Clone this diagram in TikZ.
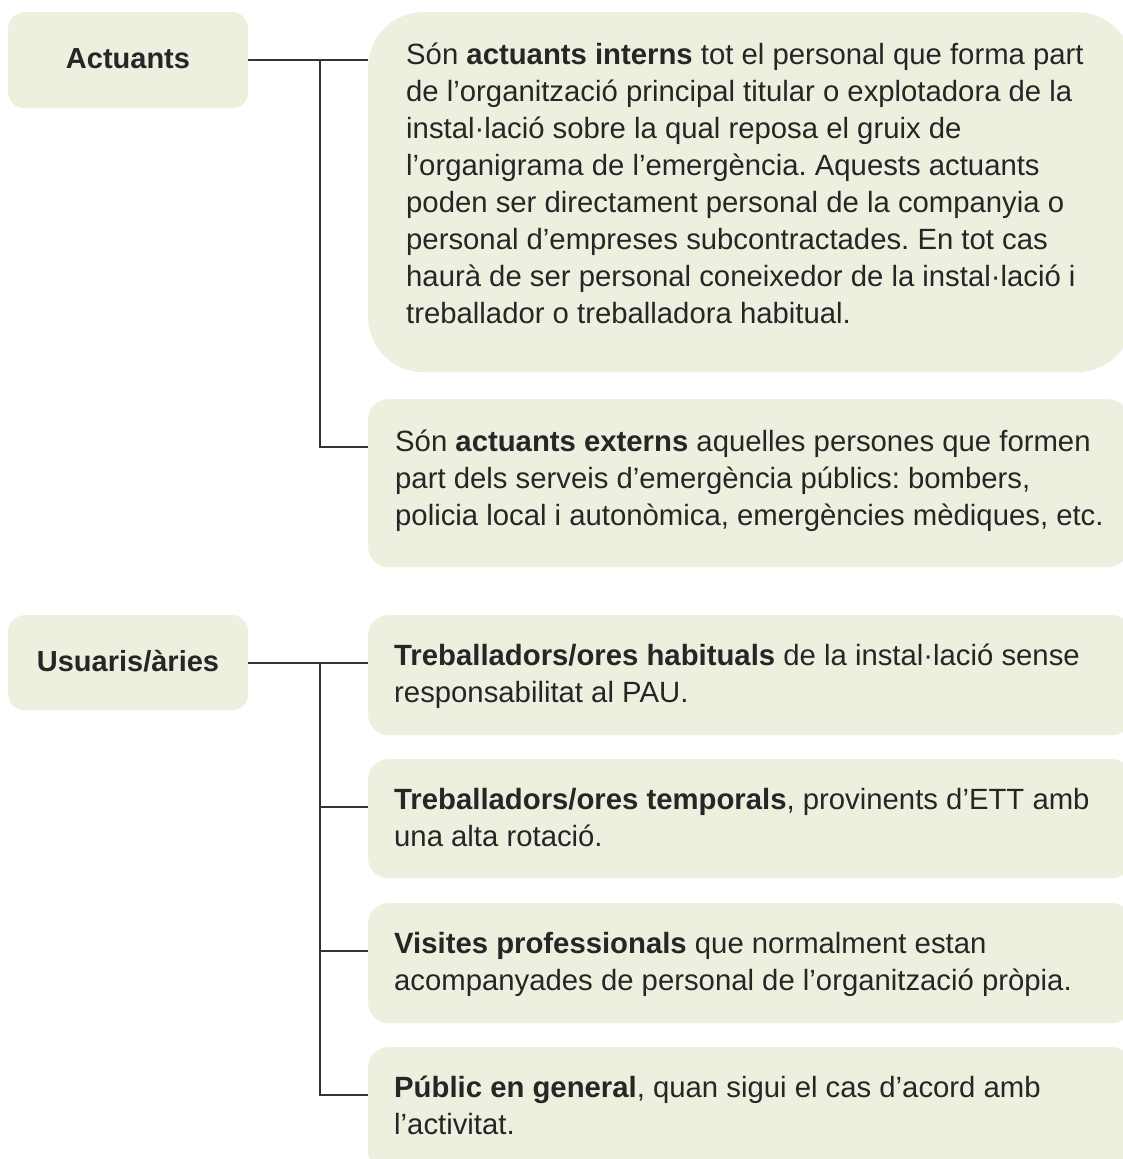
\documentclass[tikz,border=0pt]{standalone}
\usepackage{fontspec}
\setmainfont{Liberation Sans}
\definecolor{boxfill}{HTML}{EBF1DE}
\definecolor{txt}{HTML}{262626}
\definecolor{linecol}{HTML}{333333}
\begin{document}
\frenchspacing
\begin{tikzpicture}[x=1pt,y=-1pt,
  bg/.style={draw=none, fill=boxfill, inner sep=0pt, anchor=north west},
  head/.style={inner sep=0pt, anchor=base, text=txt, font=\fontsize{29pt}{37pt}\selectfont\bfseries},
  body/.style={inner sep=0pt, anchor=base west, text=txt, font=\fontsize{29.3pt}{37pt}\selectfont\frenchspacing, align=left},
  conn/.style={draw=linecol, line width=2pt}]
\useasboundingbox (0,0) rectangle (1123,1159);
% header boxes
\node[bg, rounded corners=16pt, minimum width=240pt, minimum height=96pt] (hA) at (8,12) {};
\node[bg, rounded corners=16pt, minimum width=240pt, minimum height=95pt] (hU) at (8,615) {};
\node[head] (tA) at (128,68) {Actuants};
\node[head] (tU) at (128,671) {Usuaris/àries};
% content boxes
\node[bg, rounded corners=55pt, minimum width=764pt, minimum height=360pt] (b1) at (368,12) {};
\node[bg, rounded corners=20pt, minimum width=760pt, minimum height=168pt] (b2) at (368,399) {};
\node[bg, rounded corners=20pt, minimum width=764pt, minimum height=120pt] (u1) at (368,615) {};
\node[bg, rounded corners=20pt, minimum width=764pt, minimum height=119pt] (u2) at (368,759) {};
\node[bg, rounded corners=20pt, minimum width=764pt, minimum height=120pt] (u3) at (368,903) {};
\node[bg, rounded corners=20pt, minimum width=764pt, minimum height=125pt] (u4) at (368,1047) {};
% texts
\node[body] (t1) at (406,64) {\parbox[t]{720pt}{\raggedright\frenchspacing
Són \textbf{actuants interns} tot el personal que forma part\\
de l’organització principal titular o explotadora de la\\
instal·lació sobre la qual reposa el gruix de\\
l’organigrama de l’emergència. Aquests actuants\\
poden ser directament personal de la companyia o\\
personal d’empreses subcontractades. En tot cas\\
haurà de ser personal coneixedor de la instal·lació i\\
treballador o treballadora habitual.}};
\node[body] (t2) at (395,451) {\parbox[t]{730pt}{\raggedright\frenchspacing
Són \textbf{actuants externs} aquelles persones que formen\\
part dels serveis d’emergència públics: bombers,\\
policia local i autonòmica, emergències mèdiques, etc.}};
\node[body] (tu1) at (394,665) {\parbox[t]{730pt}{\raggedright\frenchspacing
\textbf{Treballadors/ores habituals} de la instal·lació sense\\
responsabilitat al PAU.}};
\node[body] (tu2) at (394,809) {\parbox[t]{730pt}{\raggedright\frenchspacing
\textbf{Treballadors/ores temporals}, provinents d’ETT amb\\
una alta rotació.}};
\node[body] (tu3) at (394,953) {\parbox[t]{730pt}{\raggedright\frenchspacing
\textbf{Visites professionals} que normalment estan\\
acompanyades de personal de l’organització pròpia.}};
\node[body] (tu4) at (394,1097) {\parbox[t]{730pt}{\raggedright\frenchspacing
\textbf{Públic en general}, quan sigui el cas d’acord amb\\
l’activitat.}};
% connectors: Actuants
\coordinate (jA) at (320,60);
\coordinate (b2in) at ([yshift=-48pt]b2.north west);
\draw[conn] (hA.east) -- (hA.east -| b1.west);
\draw[conn] (jA) |- (b2in);
% connectors: Usuaris
\coordinate (jU) at (320,663);
\coordinate (u2in) at ([yshift=-48pt]u2.north west);
\coordinate (u3in) at ([yshift=-48pt]u3.north west);
\coordinate (u4in) at ([yshift=-48pt]u4.north west);
\draw[conn] (hU.east) -- (hU.east -| u1.west);
\draw[conn] (jU) |- (u4in);
\draw[conn] (jU |- u2in) -- (u2in);
\draw[conn] (jU |- u3in) -- (u3in);
\end{tikzpicture}
\end{document}
